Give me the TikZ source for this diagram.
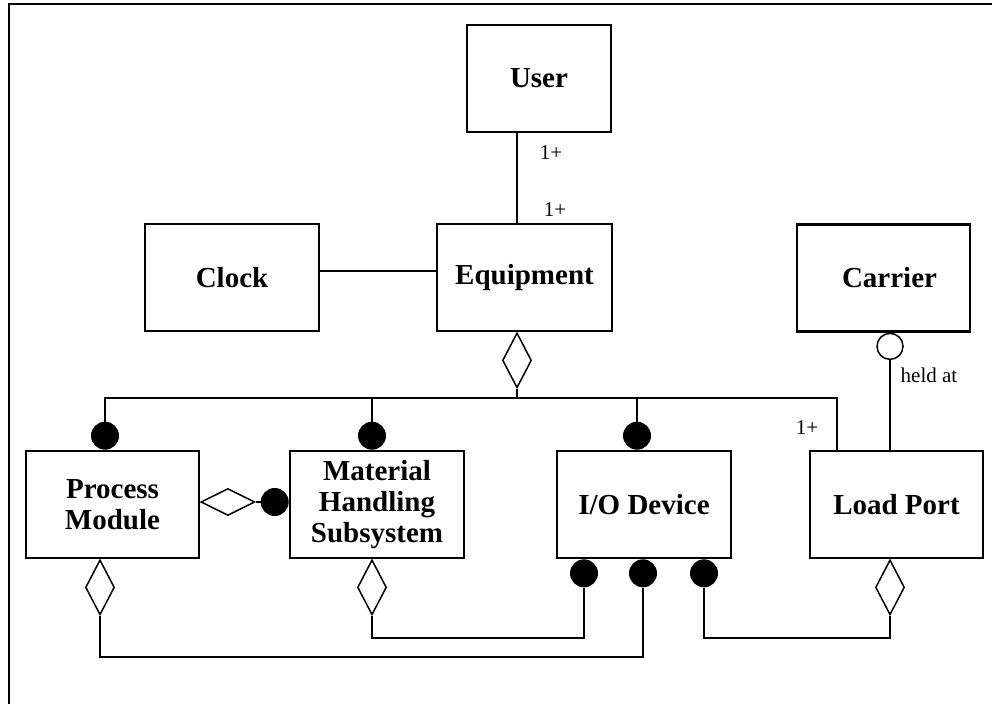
\documentclass[tikz,border=0pt]{standalone}
\usepackage{fontspec}
\setmainfont{Liberation Serif}
\usetikzlibrary{shapes.geometric}
\begin{document}
\begin{tikzpicture}[x=1pt,y=-1pt,
  box/.style={draw,line width=2.2pt,inner sep=0pt,minimum height=107pt,align=center,
    font=\fontsize{29}{31}\selectfont\bfseries},
  conn/.style={line width=1.5pt},
  agg/.style={draw,line width=1.5pt,diamond,inner sep=0pt,minimum width=29pt,minimum height=55pt,fill=white},
  dot/.style={circle,fill=black,inner sep=0pt,minimum size=28pt},
  ring/.style={circle,draw,line width=1.5pt,fill=white,inner sep=0pt,minimum size=26pt},
  lbl/.style={font=\fontsize{21}{23}\selectfont,inner sep=0pt}]
\useasboundingbox (0,0) rectangle (992,704);
\draw[line width=2pt] (9,704) -- (9,4) -- (995,4);

% boxes
\node[box,minimum width=144pt] (user) at (539,78.5) {User};
\node[box,minimum width=175pt] (equip) at (524.5,277.5) {\raisebox{-3pt}{Equipment}};
\node[box,minimum width=174pt] (clock) at (232,277.5) {Clock};
\node[box,minimum width=173pt] (carrier) at (883.5,278) {\hspace*{12pt}Carrier};
\node[box,minimum width=173pt] (pm) at (112.5,504.5) {Process\\Module};
\node[box,minimum width=174pt] (mhs) at (377,504.5) {Material\\Handling\\Subsystem};
\node[box,minimum width=174pt] (io) at (644,504.5) {I/O Device};
\node[box,minimum width=173pt] (lp) at (896.5,504.5) {Load Port};

% helper coordinates
\coordinate (ux) at (517,0);
\coordinate (cy) at (0,271);
\coordinate (bus) at (0,398);
\coordinate (lpx) at (837,0);
\coordinate (cx) at (890,0);
\coordinate (lowA) at (0,638);
\coordinate (lowB) at (0,657);

% User - Equipment
\draw[conn] (user.south -| ux) -- (equip.north -| ux);
\node[lbl] (l1) at (551,153) {1+};
\node[lbl] (l2) at (555,210) {1+};

% Clock - Equipment
\draw[conn] (clock.east |- cy) -- (equip.west |- cy);

% Equipment aggregation
\node[agg,anchor=north] (eqd) at (equip.south -| ux) {};
\draw[conn] (eqd.south) -- (eqd.south |- bus);

% top dots
\node[dot,anchor=south] (pmdt) at ([xshift=-7.5pt]pm.north) {};
\node[dot,anchor=south] (mhsdt) at ([xshift=-5pt]mhs.north) {};
\node[dot,anchor=south] (iodt) at ([xshift=-7pt]io.north) {};
\draw[conn] (pmdt.north) -- (pmdt.north |- bus) -- (bus -| lpx) -- (lp.north -| lpx);
\draw[conn] (mhsdt.north) -- (mhsdt.north |- bus);
\draw[conn] (iodt.north) -- (iodt.north |- bus);
\node[lbl] (l3) at (807,428) {1+};

% Carrier - Load Port
\node[ring,anchor=north] (cring) at (carrier.south -| cx) {};
\draw[conn] (cring.south) -- (lp.north -| cx);
\node[lbl] (held) at (929,375) {held at};

% PM - MHS
\node[agg,anchor=west,minimum width=54pt,minimum height=27pt] (pmd) at ([yshift=2.5pt]pm.east) {};
\node[dot,anchor=east] (mhsl) at (mhs.west |- pmd.east) {};
\draw[conn] (pmd.east) -- (mhsl.west);

% bottom diamonds
\node[agg,anchor=north] (pmbd) at ([xshift=-12.5pt]pm.south) {};
\node[agg,anchor=north] (mhsbd) at ([xshift=-5pt]mhs.south) {};
\node[agg,anchor=north] (lpbd) at (lp.south -| cx) {};

% I/O bottom dots
\node[dot,anchor=north] (iob1) at ([xshift=-60pt]io.south) {};
\node[dot,anchor=north] (iob2) at ([xshift=-1pt]io.south) {};
\node[dot,anchor=north] (iob3) at ([xshift=60pt]io.south) {};

\draw[conn] (mhsbd.south) -- (mhsbd.south |- lowA) -- (iob1.south |- lowA) -- (iob1.south);
\draw[conn] (pmbd.south) -- (pmbd.south |- lowB) -- (iob2.south |- lowB) -- (iob2.south);
\draw[conn] (lpbd.south) -- (lpbd.south |- lowA) -- (iob3.south |- lowA) -- (iob3.south);
\end{tikzpicture}
\end{document}
